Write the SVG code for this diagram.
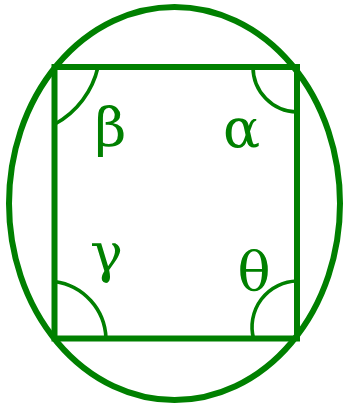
<svg xmlns="http://www.w3.org/2000/svg" width="346" height="405" viewBox="0 0 346 405">
<style>
.main{fill:none;stroke:#008000;stroke-width:6}
.arc{fill:none;stroke:#008000;stroke-width:3.6}
.lbl{font-family:"DejaVu Serif",serif;font-size:55px;fill:#008000;text-anchor:middle}
</style>
<rect width="346" height="405" fill="#ffffff"/>
<g id="circle"><ellipse class="main" cx="174.5" cy="203.5" rx="165.5" ry="196.5"/></g>
<g id="square"><rect class="main" x="54.5" y="67" width="242.5" height="271.5"/></g>
<g id="connectors">
<path class="arc" d="M 98 67 A 87 87 0 0 1 55 124"/>
<path class="arc" d="M 253 67 A 45 45 0 0 0 297 112"/>
<path class="arc" d="M 54.5 281.5 A 59.5 59.5 0 0 1 106 338.5"/>
<path class="arc" d="M 297 281 A 46 46 0 0 0 253.5 338.5"/>
</g>
<g id="beta"><text class="lbl" x="110.5" y="146">β</text></g>
<g id="alpha"><text class="lbl" x="241.5" y="146.5">α</text></g>
<g id="gamma"><text class="lbl" x="106.5" y="271.5">γ</text></g>
<g id="theta"><text class="lbl" x="254" y="289.5">θ</text></g>
</svg>
